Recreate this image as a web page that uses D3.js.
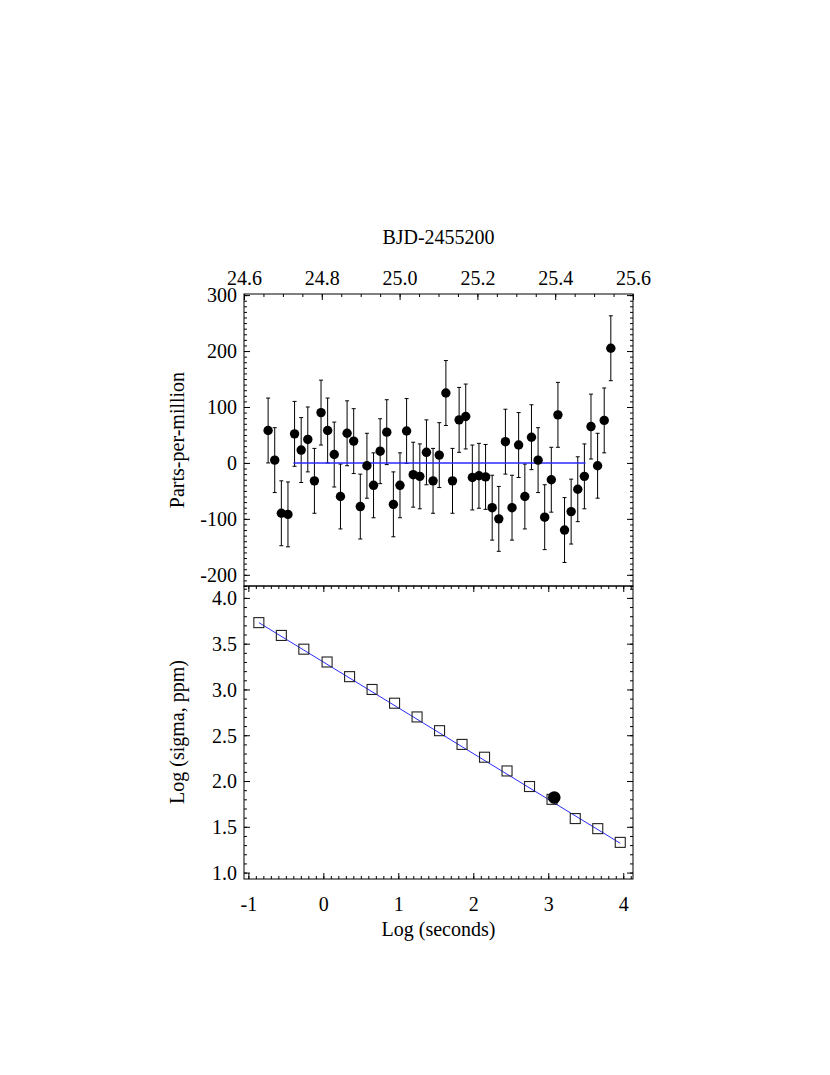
<!DOCTYPE html>
<html>
<head>
<meta charset="utf-8">
<script src="https://cdn.jsdelivr.net/npm/d3@7"></script>
<style>
  html, body { margin: 0; padding: 0; background: #fff; }
  svg text { font-family: "Liberation Serif", "Times New Roman", serif; font-size: 20px; fill: #000; }
</style>
</head>
<body>
<svg id="chart" width="830" height="1075"></svg>
<script>
// ---- Top panel data (BJD-2455200 vs residual ppm) ----
const bjd = [24.662, 24.679, 24.696, 24.713, 24.730, 24.747, 24.764, 24.781, 24.798, 24.815,
             24.832, 24.848, 24.865, 24.882, 24.899, 24.916, 24.933, 24.950, 24.967, 24.984,
             25.001, 25.018, 25.035, 25.052, 25.069, 25.086, 25.102, 25.119, 25.136, 25.153,
             25.170, 25.187, 25.204, 25.221, 25.238, 25.255, 25.272, 25.289, 25.306, 25.322,
             25.339, 25.356, 25.373, 25.390, 25.407, 25.424, 25.441, 25.458, 25.475, 25.492,
             25.509, 25.526, 25.543];
const ppm = [58, 5, -90, -92, 52, 23, 42, -32, 90, 58,
             15, -60, 53, 39, -78, -5, -40, 21, 55, -74,
             -40, 57, -21, -24, 19, -32, 14, 125, -32, 77,
             83, -26, -23, -25, -80, -100, 38, -80, 32, -60,
             46, 5, -97, -30, 86, -120, -87, -47, -24, 65,
             -5, 76, 205];
const ppmErr = [58, 58, 58, 58, 58, 58, 58, 58, 58, 58,
                58, 58, 58, 58, 58, 58, 58, 58, 58, 58,
                58, 58, 58, 58, 58, 58, 58, 58, 58, 58,
                58, 58, 58, 58, 58, 58, 58, 58, 58, 58,
                58, 58, 58, 58, 58, 58, 58, 58, 58, 58,
                58, 58, 58];
const zeroLineX = [24.727, 25.478];
const zeroLineY = [0, 0];

// ---- Bottom panel data (log bin time vs log sigma) ----
const logSec = [-0.86, -0.56, -0.26, 0.05, 0.35, 0.65, 0.95, 1.25, 1.55, 1.85,
                2.15, 2.45, 2.75, 3.05, 3.36, 3.66, 3.96];
const logSigma = [3.73, 3.59, 3.44, 3.30, 3.14, 3.00, 2.85, 2.70, 2.55, 2.40,
                  2.26, 2.11, 1.94, 1.80, 1.59, 1.48, 1.33];
const fitX = [-0.86, 3.96];
const fitY = [3.73, 1.32];
const markX = [3.08];
const markY = [1.82];

// ---- Tick labels ----
const topXTicks = [24.6, 24.8, 25.0, 25.2, 25.4, 25.6];
const topYTicks = [-200, -100, 0, 100, 200, 300];
const botXTicks = [-1, 0, 1, 2, 3, 4];
const botYTicks = [1.0, 1.5, 2.0, 2.5, 3.0, 3.5, 4.0];

const FONT = '"Liberation Serif", "Times New Roman", serif';
const svg = d3.select("#chart");
svg.append("rect").attr("width", 830).attr("height", 1075).attr("fill", "#fff");

const L = 244, R = 633, T = 294, M = 586, B = 879;

const xTop = d3.scaleLinear().domain([24.6, 25.6]).range([L, R]);
const yTop = d3.scaleLinear().domain([-220, 302]).range([M, T]);
const xBot = d3.scaleLinear().domain([-1.058, 4.13]).range([L, R]);
const yBot = d3.scaleLinear().domain([0.93, 4.13]).range([B, M]);

function range(a, b, step) {
  const out = [];
  const n = Math.round((b - a) / step);
  for (let i = 0; i <= n; i++) out.push(+(a + i * step).toFixed(6));
  return out;
}

function drawAxis(axisFn, scale, transform, major, minorStep, labels, pad, fmt) {
  const dom = scale.domain();
  const lo = Math.min(dom[0], dom[1]), hi = Math.max(dom[0], dom[1]);
  const minorVals = range(Math.ceil(lo / minorStep) * minorStep, Math.floor(hi / minorStep) * minorStep, minorStep);
  const gMin = svg.append("g").attr("transform", transform)
    .call(axisFn(scale).tickValues(minorVals).tickSize(-3).tickSizeOuter(0).tickFormat(""));
  gMin.select(".domain").remove();
  const gMaj = svg.append("g").attr("transform", transform)
    .call(axisFn(scale).tickValues(major).tickSize(-6).tickSizeOuter(0).tickPadding(pad)
      .tickFormat(labels ? fmt : ""));
  gMaj.select(".domain").remove();
  [gMin, gMaj].forEach(g => {
    g.attr("font-family", FONT).attr("font-size", 20);
    g.selectAll("line").attr("stroke", "#000").attr("stroke-width", 1);
    g.selectAll("text").attr("fill", "#000");
  });
  return gMaj;
}

// ---- Top panel axes ----
drawAxis(d3.axisTop, xTop, `translate(0,${T})`, topXTicks, 0.05, true, 9, d => d.toFixed(1));
drawAxis(d3.axisLeft, yTop, `translate(${L},0)`, topYTicks, 10, true, 7, d => String(d))
  .selectAll("text").attr("dy", "0.34em");
drawAxis(d3.axisRight, yTop, `translate(${R},0)`, topYTicks, 10, false, 0, null);

// ---- Bottom panel axes ----
drawAxis(d3.axisTop, xBot, `translate(0,${M})`, botXTicks, 0.1, false, 0, null);
drawAxis(d3.axisBottom, xBot, `translate(0,${B})`, botXTicks, 0.1, true, 18, d => String(d));
drawAxis(d3.axisLeft, yBot, `translate(${L},0)`, botYTicks, 0.1, true, 7, d => d.toFixed(1))
  .selectAll("text").attr("dy", "0.34em");
drawAxis(d3.axisRight, yBot, `translate(${R},0)`, botYTicks, 0.1, false, 0, null);

// ---- Frames ----
svg.append("rect").attr("x", L).attr("y", T).attr("width", R - L).attr("height", M - T)
  .attr("fill", "none").attr("stroke", "#000").attr("stroke-width", 1);
svg.append("rect").attr("x", L).attr("y", M).attr("width", R - L).attr("height", B - M)
  .attr("fill", "none").attr("stroke", "#000").attr("stroke-width", 1);

// ---- Top panel marks ----
const topData = bjd.map((x, i) => ({ x, y: ppm[i], e: ppmErr[i] }));
const gErr = svg.append("g").attr("stroke", "#000").attr("stroke-width", 1);
topData.forEach(d => {
  const cx = xTop(d.x);
  gErr.append("line").attr("x1", cx).attr("x2", cx).attr("y1", yTop(d.y - d.e)).attr("y2", yTop(d.y + d.e));
  gErr.append("line").attr("x1", cx - 2).attr("x2", cx + 2).attr("y1", yTop(d.y - d.e)).attr("y2", yTop(d.y - d.e));
  gErr.append("line").attr("x1", cx - 2).attr("x2", cx + 2).attr("y1", yTop(d.y + d.e)).attr("y2", yTop(d.y + d.e));
});
svg.append("path")
  .attr("d", d3.line().x(d => xTop(d[0])).y(d => yTop(d[1]))(zeroLineX.map((x, i) => [x, zeroLineY[i]])))
  .attr("stroke", "#2a2aff").attr("stroke-width", 1.4).attr("fill", "none");
svg.append("g").selectAll("circle").data(topData).join("circle")
  .attr("cx", d => xTop(d.x)).attr("cy", d => yTop(d.y)).attr("r", 4.7).attr("fill", "#000");

// ---- Bottom panel marks ----
svg.append("path")
  .attr("d", d3.line().x(d => xBot(d[0])).y(d => yBot(d[1]))(fitX.map((x, i) => [x, fitY[i]])))
  .attr("stroke", "#2a2aff").attr("stroke-width", 1).attr("fill", "none");
svg.append("g").selectAll("rect").data(logSec.map((x, i) => ({ x, y: logSigma[i] }))).join("rect")
  .attr("x", d => xBot(d.x) - 5).attr("y", d => yBot(d.y) - 5).attr("width", 10).attr("height", 10)
  .attr("fill", "none").attr("stroke", "#222").attr("stroke-width", 1.1);
svg.append("g").selectAll("circle").data(markX.map((x, i) => ({ x, y: markY[i] }))).join("circle")
  .attr("cx", d => xBot(d.x)).attr("cy", d => yBot(d.y)).attr("r", 6.3).attr("fill", "#000");

// ---- Titles ----
svg.append("text").attr("x", (L + R) / 2).attr("y", 244).attr("text-anchor", "middle").text("BJD-2455200");
svg.append("text").attr("x", (L + R) / 2).attr("y", 936).attr("text-anchor", "middle").text("Log (seconds)");
svg.append("text").attr("transform", `translate(184,440) rotate(-90)`).attr("text-anchor", "middle").text("Parts-per-million");
svg.append("text").attr("transform", `translate(184,732) rotate(-90)`).attr("text-anchor", "middle").text("Log (sigma, ppm)");
</script>
</body>
</html>
